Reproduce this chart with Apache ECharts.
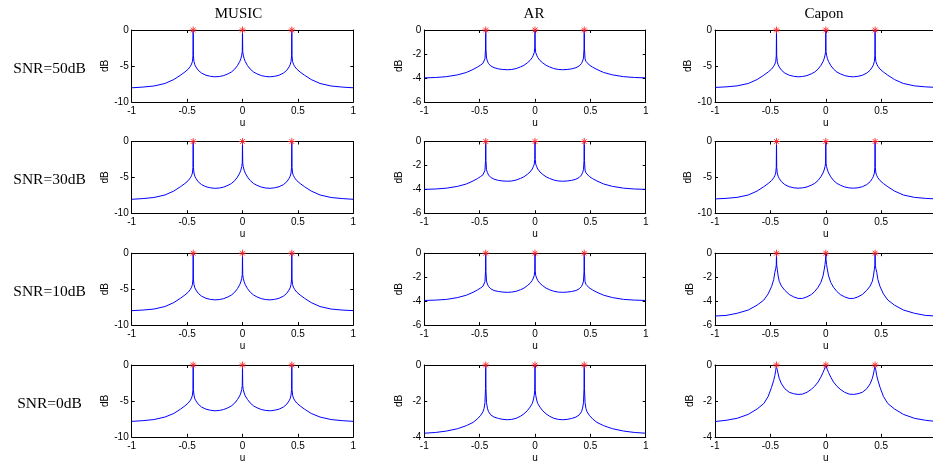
<!DOCTYPE html>
<html><head><meta charset="utf-8">
<script src="https://cdn.jsdelivr.net/npm/echarts@6/dist/echarts.min.js"></script>
<style>html,body{margin:0;padding:0;background:#fff}#c{width:933px;height:466px}</style>
</head><body><div id="c"></div>
<script>
// ---------- data ----------
const u = [-1,-0.9,-0.8,-0.7,-0.62,-0.56,-0.52,-0.49,-0.47,-0.46,-0.452,-0.447,-0.445,-0.443,-0.438,-0.43,-0.42,-0.4,-0.37,-0.33,-0.29,-0.25,-0.21,-0.17,-0.13,-0.1,-0.07,-0.045,-0.025,-0.015,-0.007,-0.002,
  0,
  0.002,0.007,0.015,0.025,0.045,0.07,0.1,0.13,0.17,0.21,0.25,0.29,0.33,0.37,0.4,0.42,0.43,0.438,0.443,0.445,0.447,0.452,0.46,0.47,0.49,0.52,0.56,0.62,0.7,0.8,0.9,1];

const musicSnr50 = [-8.05,-7.95,-7.8,-7.45,-6.9,-6.3,-5.85,-5.45,-5.05,-4.75,-4.4,-3.6,0,-3.6,-4.4,-4.85,-5.15,-5.6,-6.0,-6.3,-6.45,-6.52,-6.48,-6.35,-6.1,-5.85,-5.45,-4.95,-4.4,-4.0,-3.5,-3.0,
  0,
  -3.0,-3.5,-4.0,-4.4,-4.95,-5.45,-5.85,-6.1,-6.35,-6.48,-6.52,-6.45,-6.3,-6.0,-5.6,-5.15,-4.85,-4.4,-3.6,0,-3.6,-4.4,-4.75,-5.05,-5.45,-5.85,-6.3,-6.9,-7.45,-7.8,-7.95,-8.05];
const musicSnr30 = [-8.05,-7.95,-7.8,-7.45,-6.9,-6.3,-5.85,-5.45,-5.05,-4.75,-4.4,-3.6,0,-3.6,-4.4,-4.85,-5.15,-5.6,-6.0,-6.3,-6.45,-6.52,-6.48,-6.35,-6.1,-5.85,-5.45,-4.95,-4.4,-4.0,-3.5,-3.0,
  0,
  -3.0,-3.5,-4.0,-4.4,-4.95,-5.45,-5.85,-6.1,-6.35,-6.48,-6.52,-6.45,-6.3,-6.0,-5.6,-5.15,-4.85,-4.4,-3.6,0,-3.6,-4.4,-4.75,-5.05,-5.45,-5.85,-6.3,-6.9,-7.45,-7.8,-7.95,-8.05];
const musicSnr10 = [-8.0,-7.92,-7.78,-7.43,-6.88,-6.28,-5.83,-5.43,-5.03,-4.73,-4.38,-3.6,0,-3.6,-4.38,-4.83,-5.13,-5.58,-5.98,-6.28,-6.43,-6.5,-6.46,-6.33,-6.08,-5.83,-5.43,-4.93,-4.38,-3.98,-3.5,-3.0,
  0,
  -3.0,-3.5,-3.98,-4.38,-4.93,-5.43,-5.83,-6.08,-6.33,-6.46,-6.5,-6.43,-6.28,-5.98,-5.58,-5.13,-4.83,-4.38,-3.6,0,-3.6,-4.38,-4.73,-5.03,-5.43,-5.83,-6.28,-6.88,-7.43,-7.78,-7.92,-8.0];
const musicSnr0 = [-7.85,-7.75,-7.6,-7.25,-6.75,-6.15,-5.7,-5.3,-4.9,-4.6,-4.2,-3.4,0,-3.4,-4.2,-4.7,-5.0,-5.45,-5.85,-6.15,-6.3,-6.38,-6.33,-6.2,-5.95,-5.7,-5.3,-4.8,-4.3,-3.9,-3.4,-2.9,
  0,
  -2.9,-3.4,-3.9,-4.3,-4.8,-5.3,-5.7,-5.95,-6.2,-6.33,-6.38,-6.3,-6.15,-5.85,-5.45,-5.0,-4.7,-4.2,-3.4,0,-3.4,-4.2,-4.6,-4.9,-5.3,-5.7,-6.15,-6.75,-7.25,-7.6,-7.75,-7.85];

const arSnr50 = [-4.0,-3.97,-3.9,-3.75,-3.55,-3.3,-3.1,-2.92,-2.78,-2.62,-2.4,-1.6,0,-1.6,-2.35,-2.6,-2.8,-3.0,-3.15,-3.25,-3.3,-3.32,-3.3,-3.22,-3.08,-2.95,-2.75,-2.55,-2.3,-2.1,-1.9,-1.5,
  0,
  -1.5,-1.9,-2.1,-2.3,-2.55,-2.75,-2.95,-3.08,-3.22,-3.3,-3.32,-3.3,-3.25,-3.15,-3.0,-2.8,-2.6,-2.35,-1.6,0,-1.6,-2.4,-2.62,-2.78,-2.92,-3.1,-3.3,-3.55,-3.75,-3.9,-3.97,-4.0];
const arSnr30 = [-4.0,-3.97,-3.9,-3.75,-3.55,-3.3,-3.1,-2.92,-2.78,-2.62,-2.4,-1.6,0,-1.6,-2.35,-2.6,-2.8,-3.0,-3.15,-3.25,-3.3,-3.32,-3.3,-3.22,-3.08,-2.95,-2.75,-2.55,-2.3,-2.1,-1.9,-1.5,
  0,
  -1.5,-1.9,-2.1,-2.3,-2.55,-2.75,-2.95,-3.08,-3.22,-3.3,-3.32,-3.3,-3.25,-3.15,-3.0,-2.8,-2.6,-2.35,-1.6,0,-1.6,-2.4,-2.62,-2.78,-2.92,-3.1,-3.3,-3.55,-3.75,-3.9,-3.97,-4.0];
const arSnr10 = [-3.95,-3.92,-3.86,-3.71,-3.51,-3.27,-3.07,-2.9,-2.76,-2.6,-2.38,-1.55,0,-1.55,-2.33,-2.58,-2.78,-2.97,-3.12,-3.2,-3.25,-3.27,-3.25,-3.18,-3.05,-2.92,-2.72,-2.52,-2.28,-2.08,-1.88,-1.5,
  0,
  -1.5,-1.88,-2.08,-2.28,-2.52,-2.72,-2.92,-3.05,-3.18,-3.25,-3.27,-3.25,-3.2,-3.12,-2.97,-2.78,-2.58,-2.33,-1.55,0,-1.55,-2.38,-2.6,-2.76,-2.9,-3.07,-3.27,-3.51,-3.71,-3.86,-3.92,-3.95];
const arSnr0 = [-3.8,-3.76,-3.68,-3.55,-3.38,-3.2,-3.0,-2.8,-2.6,-2.42,-2.1,-1.3,0,-1.3,-2.1,-2.4,-2.6,-2.78,-2.9,-2.98,-3.03,-3.05,-3.03,-2.97,-2.85,-2.72,-2.55,-2.35,-2.15,-1.95,-1.7,-1.4,
  0,
  -1.4,-1.7,-1.95,-2.15,-2.35,-2.55,-2.72,-2.85,-2.97,-3.03,-3.05,-3.03,-2.98,-2.9,-2.78,-2.6,-2.4,-2.1,-1.3,0,-1.3,-2.1,-2.42,-2.6,-2.8,-3.0,-3.2,-3.38,-3.55,-3.68,-3.76,-3.8];

const caponSnr50 = [-8.0,-7.92,-7.78,-7.45,-6.9,-6.3,-5.85,-5.45,-5.05,-4.75,-4.4,-3.6,0,-3.6,-4.4,-4.85,-5.15,-5.6,-6.0,-6.3,-6.45,-6.52,-6.48,-6.35,-6.1,-5.85,-5.45,-4.95,-4.4,-4.0,-3.5,-3.0,
  0,
  -3.0,-3.5,-4.0,-4.4,-4.95,-5.45,-5.85,-6.1,-6.35,-6.48,-6.52,-6.45,-6.3,-6.0,-5.6,-5.15,-4.85,-4.4,-3.6,0,-3.6,-4.4,-4.75,-5.05,-5.45,-5.85,-6.3,-6.9,-7.45,-7.78,-7.92,-8.0];
const caponSnr30 = [-8.0,-7.92,-7.78,-7.45,-6.9,-6.3,-5.85,-5.45,-5.05,-4.75,-4.4,-3.6,0,-3.6,-4.4,-4.85,-5.15,-5.6,-6.0,-6.3,-6.45,-6.5,-6.46,-6.33,-6.08,-5.83,-5.43,-4.93,-4.38,-3.98,-3.5,-3.0,
  0,
  -3.0,-3.5,-3.98,-4.38,-4.93,-5.43,-5.83,-6.08,-6.33,-6.46,-6.5,-6.45,-6.3,-6.0,-5.6,-5.15,-4.85,-4.4,-3.6,0,-3.6,-4.4,-4.75,-5.05,-5.45,-5.85,-6.3,-6.9,-7.45,-7.78,-7.92,-8.0];
const caponSnr10 = [-5.25,-5.2,-5.02,-4.75,-4.34,-3.92,-3.4,-2.8,-2.2,-1.6,-1.3,-1.0,0,-1.0,-1.35,-1.9,-2.35,-2.75,-3.1,-3.45,-3.65,-3.78,-3.78,-3.65,-3.45,-3.2,-2.85,-2.45,-1.9,-1.4,-0.95,-0.5,
  0,
  -0.5,-0.95,-1.4,-1.9,-2.45,-2.85,-3.2,-3.45,-3.65,-3.78,-3.78,-3.65,-3.45,-3.1,-2.75,-2.35,-1.9,-1.35,-1.0,0,-1.0,-1.3,-1.6,-2.2,-2.8,-3.4,-3.92,-4.34,-4.75,-5.02,-5.2,-5.25];
const caponSnr0 = [-3.15,-3.08,-2.97,-2.75,-2.45,-2.15,-1.75,-1.25,-0.85,-0.6,-0.3,-0.08,0,-0.08,-0.25,-0.5,-0.75,-1.05,-1.32,-1.52,-1.6,-1.64,-1.62,-1.52,-1.35,-1.18,-0.95,-0.68,-0.42,-0.27,-0.13,-0.04,
  0,
  -0.04,-0.13,-0.27,-0.42,-0.68,-0.95,-1.18,-1.35,-1.52,-1.62,-1.64,-1.6,-1.52,-1.32,-1.05,-0.75,-0.5,-0.25,-0.08,0,-0.08,-0.3,-0.6,-0.85,-1.25,-1.75,-2.15,-2.45,-2.75,-2.97,-3.08,-3.15];

const peakU = [-0.445, 0, 0.445];
const peakDb = [0, 0, 0];

const methodTitles = ['MUSIC', 'AR', 'Capon'];
const snrLabels = ['SNR=50dB', 'SNR=30dB', 'SNR=10dB', 'SNR=0dB'];
const xTicks = [-1, 1, 0.5];            // min, max, step of the u axis
const yMinTable = [[-10, -6, -10], [-10, -6, -10], [-10, -6, -6], [-10, -4, -4]];
const yStepTable = [[5, 2, 5], [5, 2, 5], [5, 2, 2], [5, 2, 2]];
const panelData = [
  [musicSnr50, arSnr50, caponSnr50],
  [musicSnr30, arSnr30, caponSnr30],
  [musicSnr10, arSnr10, caponSnr10],
  [musicSnr0, arSnr0, caponSnr0]
];

// ---------- layout ----------
const colLeft = [131.7, 424.3, 715];
const colW = [221.6, 221.4, 221.6];
const rowTop = [30, 141.5, 253.2, 365];
const rowH = 71.8;
const titleX = [238.5, 534, 824];

const tickFont = 'Liberation Sans';
const serif = 'Liberation Serif';
const axisColor = '#000';

const grids = [], xAxes = [], yAxes = [], series = [], graphics = [];
const starPath = 'path://M5,0L5,10M0,5L10,5M1.6,1.6L8.4,8.4M8.4,1.6L1.6,8.4';

for (let r = 0; r < 4; r++) {
  for (let c = 0; c < 3; c++) {
    const gi = grids.length;
    grids.push({ left: colLeft[c], top: rowTop[r], width: colW[c], height: rowH,
      show: false, outerBoundsMode: 'none', containLabel: false });
    const baseX = { gridIndex: gi, type: 'value', min: xTicks[0], max: xTicks[1], interval: xTicks[2],
      splitLine: { show: false },
      axisLine: { show: true, onZero: false, lineStyle: { color: axisColor, width: 1 } },
      axisTick: { show: true, inside: true, length: 3, lineStyle: { color: axisColor, width: 1 } } };
    xAxes.push(Object.assign({}, baseX, { position: 'bottom',
      name: 'u', nameLocation: 'middle', nameGap: 16,
      nameTextStyle: { fontFamily: tickFont, fontSize: 10, color: '#000' },
      axisLabel: { show: true, margin: 4, fontFamily: tickFont, fontSize: 10, color: '#000' } }));
    xAxes.push(Object.assign({}, baseX, { position: 'top', axisLabel: { show: false } }));
    const baseY = { gridIndex: gi, type: 'value', min: yMinTable[r][c], max: 0, interval: yStepTable[r][c],
      splitLine: { show: false },
      axisLine: { show: true, onZero: false, lineStyle: { color: axisColor, width: 1 } },
      axisTick: { show: true, inside: true, length: 3, lineStyle: { color: axisColor, width: 1 } } };
    yAxes.push(Object.assign({}, baseY, { position: 'left',
      name: 'dB', nameLocation: 'middle', nameGap: 20,
      nameTextStyle: { fontFamily: tickFont, fontSize: 10, color: '#000' },
      axisLabel: { show: true, margin: 3, fontFamily: tickFont, fontSize: 10, color: '#000' } }));
    yAxes.push(Object.assign({}, baseY, { position: 'right', axisLabel: { show: false } }));

    const vals = panelData[r][c];
    series.push({ type: 'line', xAxisIndex: 2 * gi, yAxisIndex: 2 * gi,
      data: u.map((x, i) => [x, vals[i]]),
      showSymbol: false, symbol: 'none', silent: true, animation: false,
      lineStyle: { color: '#0000ff', width: 1 }, z: 2 });
    series.push({ type: 'scatter', xAxisIndex: 2 * gi, yAxisIndex: 2 * gi,
      data: peakU.map((x, i) => [x, peakDb[i]]),
      symbol: starPath, symbolSize: 7, silent: true, animation: false,
      itemStyle: { color: 'rgba(0,0,0,0)', borderColor: '#ff2020', borderWidth: 1, opacity: 0.85 }, z: 5 });
  }
}

methodTitles.forEach((t, c) => {
  graphics.push({ type: 'text', x: titleX[c], y: 14, silent: true,
    style: { text: t, font: '15px "' + serif + '"', fill: '#000', align: 'center', verticalAlign: 'middle' } });
});
snrLabels.forEach((t, r) => {
  graphics.push({ type: 'text', x: 49.5, y: rowTop[r] + rowH / 2 + 3, silent: true,
    style: { text: t, font: '15.5px "' + serif + '"', fill: '#000', align: 'center', verticalAlign: 'middle' } });
});

const chart = echarts.init(document.getElementById('c'), null, { renderer: 'canvas' });
chart.setOption({
  animation: false,
  backgroundColor: '#fff',
  grid: grids,
  xAxis: xAxes,
  yAxis: yAxes,
  series: series,
  graphic: graphics
});
</script>
</body></html>
